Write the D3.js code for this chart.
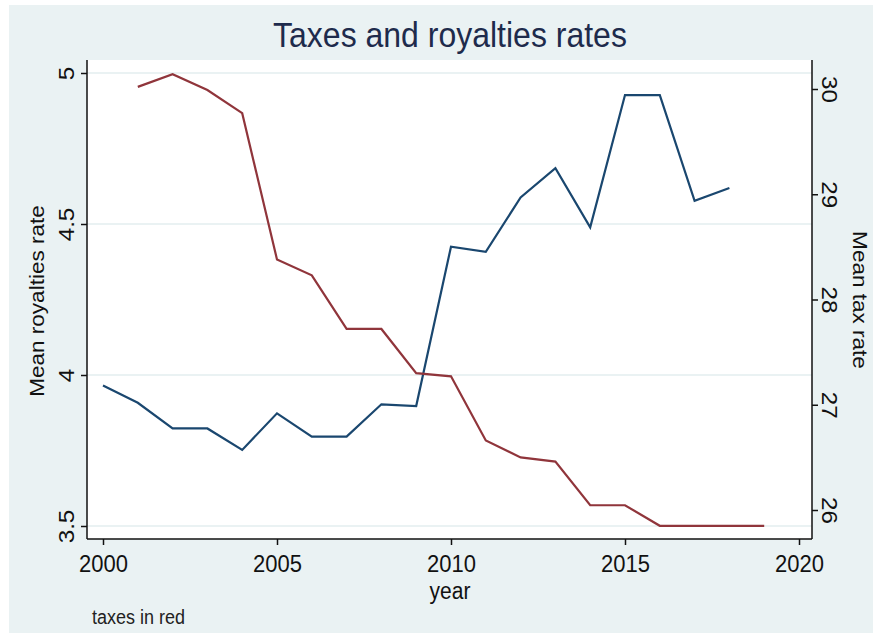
<!DOCTYPE html>
<html>
<head>
<meta charset="utf-8">
<script src="https://cdn.jsdelivr.net/npm/d3@7"></script>
<style>
  body { margin: 0; background: #fff; }
  text { font-family: "Liberation Sans", Arial, sans-serif; }
</style>
</head>
<body>
<div id="chart"></div>
<script>
const W = 873, H = 633;

// royalties (left axis), 2000-2018
const royYears = d3.range(2000, 2019);
const royalties = [3.965, 3.908, 3.823, 3.823, 3.752, 3.873, 3.796, 3.796, 3.903, 3.897,
                   4.425, 4.408, 4.588, 4.685, 4.489, 4.927, 4.927, 4.577, 4.619];

// tax rate (right axis), 2001-2019
const taxYears = d3.range(2001, 2020);
const taxes = [30.02, 30.14, 29.99, 29.77, 28.38, 28.23, 27.72, 27.72, 27.30, 27.27,
               26.66, 26.50, 26.46, 26.045, 26.045, 25.85, 25.85, 25.85, 25.85];

const xTicks = [2000, 2005, 2010, 2015, 2020];
const leftTicks = [3.5, 4, 4.5, 5];
const rightTicks = [26, 27, 28, 29, 30];

const plot = {left: 87, right: 812, top: 60, bottom: 539};
const stretch = 1.1; // the source text is a bit taller than wide

const x = d3.scaleLinear().domain([2000, 2020]).range([103, 799]);
const yL = d3.scaleLinear().domain([3.5, 5]).range([526, 73]);
const yR = d3.scaleLinear().domain([26, 30]).range([510, 89]);

const svg = d3.select("#chart").append("svg")
    .attr("width", W).attr("height", H);

// outer graph region
svg.append("rect")
    .attr("x", 9).attr("y", 5)
    .attr("width", W - 9).attr("height", H - 5)
    .attr("fill", "#eaf2f3");

// plot region
svg.append("rect")
    .attr("x", plot.left).attr("y", plot.top)
    .attr("width", plot.right - plot.left).attr("height", plot.bottom - plot.top)
    .attr("fill", "#fff");

// gridlines on left ticks
svg.append("g").selectAll("line")
    .data(leftTicks).enter()
  .append("line")
    .attr("x1", plot.left).attr("x2", plot.right)
    .attr("y1", d => yL(d)).attr("y2", d => yL(d))
    .attr("stroke", "#eaf2f3").attr("stroke-width", 2);

// lines
const lineRoy = d3.line().x((d, i) => x(royYears[i])).y(d => yL(d));
const lineTax = d3.line().x((d, i) => x(taxYears[i])).y(d => yR(d));

svg.append("path").datum(royalties)
    .attr("d", lineRoy)
    .attr("fill", "none").attr("stroke", "#1a476f").attr("stroke-width", 2.2);

svg.append("path").datum(taxes)
    .attr("d", lineTax)
    .attr("fill", "none").attr("stroke", "#90353b").attr("stroke-width", 2.2);

// axes
const xAxis = svg.append("g")
    .attr("transform", `translate(0,${plot.bottom})`)
    .call(d3.axisBottom(x).tickValues(xTicks).tickFormat(d3.format("d")).tickSize(6).tickSizeOuter(0));
xAxis.select(".domain").attr("d", `M${plot.left},0H${plot.right}`);
xAxis.selectAll(".tick text")
    .attr("y", 0).attr("dy", 0)
    .attr("transform", `translate(0,33) scale(1,${stretch})`)
    .attr("font-size", 22).attr("fill", "#111");

const lAxis = svg.append("g")
    .attr("transform", `translate(${plot.left},0)`)
    .call(d3.axisLeft(yL).tickValues(leftTicks).tickFormat(d => d).tickSize(6).tickSizeOuter(0));
lAxis.select(".domain").attr("d", `M0,${plot.top}V${plot.bottom}`);
lAxis.selectAll(".tick text")
    .attr("x", 0).attr("dy", 0).attr("y", 0)
    .attr("text-anchor", "middle")
    .attr("transform", `translate(-13,0) rotate(-90) scale(${stretch},1)`)
    .attr("font-size", 22).attr("fill", "#111");

const rAxis = svg.append("g")
    .attr("transform", `translate(${plot.right},0)`)
    .call(d3.axisRight(yR).tickValues(rightTicks).tickFormat(d3.format("d")).tickSize(6).tickSizeOuter(0));
rAxis.select(".domain").attr("d", `M0,${plot.top}V${plot.bottom}`);
rAxis.selectAll(".tick text")
    .attr("x", 0).attr("dy", 0).attr("y", 0)
    .attr("text-anchor", "middle")
    .attr("transform", `translate(10,0) rotate(90) scale(${stretch},1)`)
    .attr("font-size", 22).attr("fill", "#111");

svg.selectAll(".domain, .tick line").attr("stroke", "#111").attr("stroke-width", 1.5);

// titles
svg.append("text")
    .attr("transform", `translate(450,47) scale(1,${stretch})`)
    .attr("text-anchor", "middle")
    .attr("font-size", 32).attr("fill", "#1e2b4c")
    .text("Taxes and royalties rates");

svg.append("text")
    .attr("transform", `translate(450,599) scale(1,${stretch})`)
    .attr("text-anchor", "middle")
    .attr("font-size", 21).attr("fill", "#111")
    .text("year");

svg.append("text")
    .attr("transform", `translate(44,301) rotate(-90) scale(${stretch},1)`)
    .attr("text-anchor", "middle")
    .attr("font-size", 20.5).attr("fill", "#111")
    .text("Mean royalties rate");

svg.append("text")
    .attr("transform", `translate(853,300) rotate(90) scale(${stretch},1)`)
    .attr("text-anchor", "middle")
    .attr("font-size", 20.5).attr("fill", "#111")
    .text("Mean tax rate");

svg.append("text")
    .attr("transform", `translate(92,624) scale(1,${stretch})`)
    .attr("font-size", 18).attr("fill", "#222")
    .text("taxes in red");
</script>
</body>
</html>
